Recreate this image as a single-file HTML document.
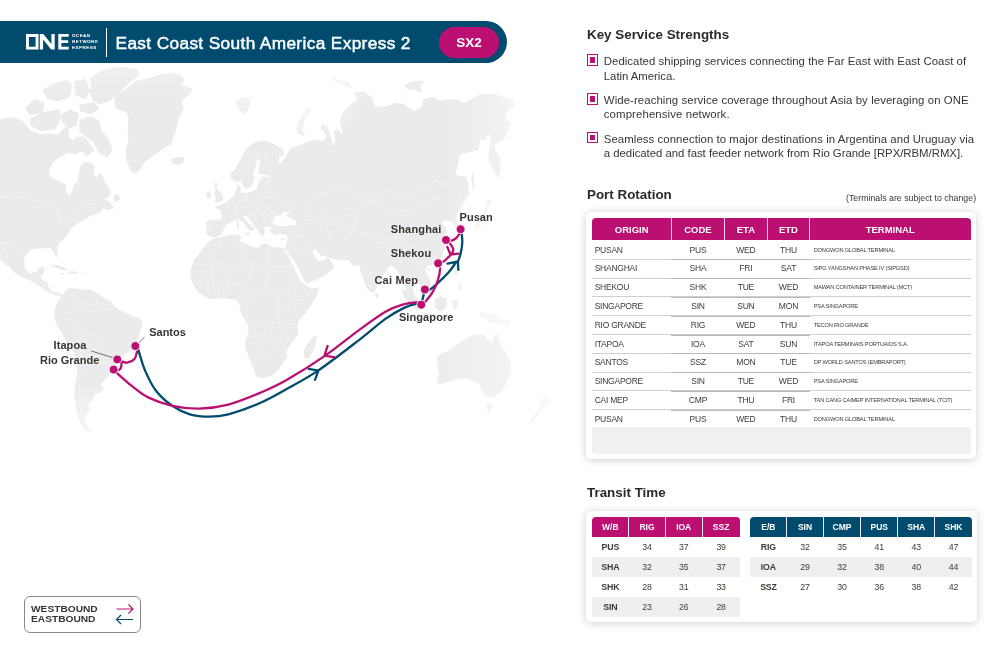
<!DOCTYPE html>
<html>
<head>
<meta charset="utf-8">
<title>East Coast South America Express 2 - SX2</title>
<style>
*{margin:0;padding:0;box-sizing:border-box;}
html,body{width:997px;height:667px;overflow:hidden;background:#fff;}
body{position:relative;font-family:"Liberation Sans",sans-serif;color:#3a3530;}
#wrap{position:absolute;left:0;top:0;width:997px;height:667px;will-change:transform;}
.abs{position:absolute;}
#map{position:absolute;left:0;top:0;width:997px;height:667px;}
/* header */
#bar{position:absolute;left:0;top:21px;width:507px;height:42px;background:#014c6e;border-radius:0 21px 21px 0;}
#title{position:absolute;left:115.5px;top:22px;letter-spacing:0.35px;-webkit-text-stroke:.45px #fff;height:42px;line-height:42px;color:#fff;font-weight:normal;font-size:17.3px;white-space:nowrap;transform-origin:0 50%;}
#divider{position:absolute;left:105.5px;top:28px;width:1px;height:29px;background:#fff;}
#pill{position:absolute;left:439.1px;top:26.7px;width:59.6px;height:30.9px;border-radius:15.5px;background:#bb0f71;color:#fff;font-weight:bold;font-size:13.5px;line-height:31px;text-align:center;}
/* right */
h2{position:absolute;left:587px;font-size:13.4px;font-weight:bold;color:#2d2a26;white-space:nowrap;line-height:16px;transform-origin:0 50%;}
.bl{position:absolute;left:586.6px;width:11.2px;height:11.6px;border:1px solid #bb0f71;}
.bl:after{content:"";position:absolute;left:2.1px;top:2.1px;width:5px;height:5.4px;background:#bb0f71;}
.bt{position:absolute;left:603.8px;font-size:11.4px;line-height:14.6px;color:#3a3530;white-space:nowrap;transform-origin:0 0;}
.card{position:absolute;background:#fff;border-radius:5px;box-shadow:0 1px 8px rgba(0,0,0,.2);}
table{border-collapse:collapse;}
.th{position:absolute;color:#fff;font-weight:bold;font-size:9.5px;text-align:center;white-space:nowrap;}
.th.s{font-size:8.5px;}
.td{position:absolute;font-size:8.5px;color:#3f3a35;white-space:nowrap;letter-spacing:-0.2px;}
.td.o{letter-spacing:-0.25px;}
.td.c{text-align:center;}
.td.b{font-weight:bold;}
.td.t{font-size:5.7px;letter-spacing:-0.18px;}
.td.tr{font-size:8.8px;}
.pl{position:absolute;font-size:11px;font-weight:bold;line-height:14px;color:#3a3530;white-space:nowrap;}
/* legend */
#legend{position:absolute;left:24px;top:596px;width:117px;height:37px;border:1px solid #8a8a8a;border-radius:6px;background:#fff;}
#legend div{position:absolute;left:5.5px;transform:scaleX(1.1);font-size:9.25px;font-weight:bold;color:#3a3530;line-height:10px;transform-origin:0 50%;white-space:nowrap;}
</style>
</head>
<body>
<div id="wrap">
<!--MAP-->
<svg id="map" viewBox="0 0 997 667">
<defs>
<linearGradient id="gR" gradientUnits="userSpaceOnUse" x1="445" y1="0" x2="565" y2="0"><stop offset="0" stop-color="#000" stop-opacity="0"/><stop offset=".42" stop-color="#000" stop-opacity=".25"/><stop offset=".56" stop-color="#000" stop-opacity=".45"/><stop offset=".83" stop-color="#000" stop-opacity=".75"/><stop offset="1" stop-color="#000" stop-opacity=".93"/></linearGradient>
<linearGradient id="gT" gradientUnits="userSpaceOnUse" x1="0" y1="63" x2="0" y2="102"><stop offset="0" stop-color="#000" stop-opacity=".25"/><stop offset="1" stop-color="#000" stop-opacity="0"/></linearGradient>
<linearGradient id="gL" gradientUnits="userSpaceOnUse" x1="0" y1="0" x2="55" y2="0"><stop offset="0" stop-color="#000" stop-opacity=".12"/><stop offset="1" stop-color="#000" stop-opacity="0"/></linearGradient>
<linearGradient id="gB" gradientUnits="userSpaceOnUse" x1="0" y1="385" x2="0" y2="440"><stop offset="0" stop-color="#000" stop-opacity="0"/><stop offset="1" stop-color="#000" stop-opacity=".65"/></linearGradient>
<linearGradient id="gA" gradientUnits="userSpaceOnUse" x1="437" y1="0" x2="560" y2="0"><stop offset="0" stop-color="#ebebeb" stop-opacity=".9"/><stop offset=".6" stop-color="#ebebeb" stop-opacity=".6"/><stop offset=".88" stop-color="#ebebeb" stop-opacity=".3"/><stop offset="1" stop-color="#ebebeb" stop-opacity=".1"/></linearGradient>
<radialGradient id="gG" gradientUnits="userSpaceOnUse" cx="503" cy="266" r="90" gradientTransform="translate(503 266) scale(.72 1) translate(-503 -266)"><stop offset="0" stop-color="#000" stop-opacity=".8"/><stop offset=".55" stop-color="#000" stop-opacity=".55"/><stop offset="1" stop-color="#000" stop-opacity="0"/></radialGradient>
<radialGradient id="gN" gradientUnits="userSpaceOnUse" cx="292" cy="64" r="85"><stop offset="0" stop-color="#000" stop-opacity=".7"/><stop offset=".6" stop-color="#000" stop-opacity=".5"/><stop offset="1" stop-color="#000" stop-opacity="0"/></radialGradient>
<mask id="mk" maskUnits="userSpaceOnUse" x="0" y="0" width="997" height="667"><rect width="997" height="667" fill="#fff"/><rect x="445" width="552" height="667" fill="url(#gR)"/><rect width="997" height="165" fill="url(#gT)"/><rect x="400" y="150" width="200" height="240" fill="url(#gG)"/><rect x="190" y="0" width="220" height="160" fill="url(#gN)"/><rect y="385" width="997" height="282" fill="url(#gB)"/></mask>
</defs>
<g mask="url(#mk)"><path id="land" fill="#ebebeb" d="M0.0 119.2L10.0 117.2L18.1 118.2L24.1 122.2L30.1 130.3L40.2 134.3L50.2 133.3L58.2 135.3L62.2 130.3L66.3 126.3L69.3 129.3L68.3 136.3L72.3 140.3L76.3 137.3L82.3 136.3L88.4 140.3L90.4 146.3L86.3 150.4L80.3 151.4L76.3 154.4L68.3 152.8L60.2 156.4L53.2 162.4L49.2 170.4L49.2 175.5L54.2 178.9L62.2 182.5L66.3 185.5L65.3 184.0L66.3 192.0L69.3 195.7L71.7 192.0L74.3 184.0L77.3 182.5L78.7 174.5L80.3 166.4L84.3 161.4L90.4 162.4L94.4 166.4L93.4 172.4L96.4 177.5L100.4 172.4L104.4 180.5L108.4 188.5L106.4 184.0L109.4 189.0L111.4 194.1L108.4 197.1L104.4 199.1L109.4 202.1L114.5 208.1L108.4 210.1L103.4 208.1L100.4 212.1L90.4 216.1L82.3 220.2L76.3 224.2L70.3 229.2L68.3 234.2L60.2 242.2L57.2 247.3L57.6 254.3L56.2 258.3L53.8 252.3L50.2 248.3L40.2 248.3L32.1 249.3L27.1 253.3L24.1 260.3L25.1 268.4L30.1 273.4L37.1 271.4L39.2 267.3L45.2 267.3L43.2 273.4L40.2 276.4L43.2 280.4L48.2 282.4L48.2 286.4L52.2 291.4L58.2 292.4L62.2 294.5L59.2 296.5L54.2 294.5L48.2 292.4L40.2 286.4L34.1 282.4L26.1 278.4L18.1 275.4L12.0 270.4L9.0 266.3L4.0 259.3L0.0 253.3ZM0.0 254.7L2.4 257.3L6.0 262.7L8.4 266.7L6.0 265.9L2.4 261.3L0.0 258.7ZM62.2 294.5L67.3 289.4L70.3 287.4L74.3 288.4L80.3 289.4L90.4 289.4L96.4 292.4L104.4 298.5L110.4 300.5L113.5 305.5L120.5 310.5L130.5 315.1L138.6 318.1L142.6 322.1L141.6 328.1L138.6 336.1L136.5 344.2L132.5 350.2L124.5 354.2L118.5 358.2L114.5 368.3L110.4 374.3L104.4 380.3L100.4 384.3L104.4 388.4L100.4 392.4L94.4 394.4L92.4 400.4L88.4 404.4L89.4 410.4L84.3 416.5L85.3 422.5L89.4 428.5L94.4 432.5L88.4 432.5L82.3 428.5L79.3 420.5L76.3 408.4L74.3 396.4L75.3 384.3L77.3 372.3L76.3 360.2L74.3 352.2L68.3 344.2L62.2 334.1L56.2 324.1L54.2 316.1L55.2 308.0L58.2 300.0L59.8 298.5ZM114.5 97.1L124.5 90.1L136.5 81.1L148.6 78.1L160.6 74.1L172.7 72.4L181.7 76.1L184.7 80.1L180.7 84.1L192.8 89.1L188.8 95.1L181.7 100.2L183.7 108.2L178.7 118.2L176.7 128.3L172.7 140.3L170.7 144.3L160.6 150.4L152.6 156.4L144.6 162.4L138.6 171.4L134.5 173.5L130.5 170.4L126.5 160.4L125.5 150.4L128.5 140.3L127.5 128.3L128.5 118.2L126.5 112.2L120.5 110.2L115.5 108.2L114.5 102.2ZM170.7 159.4L176.7 157.0L183.7 157.8L184.7 161.4L178.7 164.8L173.7 164.4ZM90.0 79.1L96.4 73.7L104.4 69.6L120.5 66.6L137.6 69.6L139.6 75.7L131.5 80.7L125.5 86.7L119.5 92.7L109.4 101.2L100.4 104.2L93.4 101.2L89.4 92.1L91.4 86.1ZM74.7 81.1L85.3 79.1L90.0 90.1L85.3 99.8L75.3 95.1ZM42.2 90.1L52.2 84.1L67.3 80.1L72.3 85.1L70.3 97.1L59.2 101.2L47.2 99.2ZM79.3 104.6L94.4 102.2L99.4 109.2L90.4 114.2L80.3 111.2ZM25.1 108.2L34.1 99.2L44.2 102.6L43.2 112.8L29.7 115.2ZM30.1 118.2L46.2 111.2L59.2 109.2L61.2 118.6L55.2 129.3L40.2 131.3L30.1 125.3ZM61.2 114.2L70.3 109.2L79.3 113.8L75.9 126.7L69.3 128.3L64.3 124.3L61.2 120.2ZM79.3 120.2L90.4 116.2L99.4 120.2L101.4 130.3L109.4 140.3L112.4 150.4L107.4 157.4L100.4 154.4L96.4 148.4L93.4 142.3L86.3 137.3L79.3 131.3ZM80.3 148.4L90.4 144.3L94.4 150.4L86.3 156.4ZM113.5 195.1L118.5 194.1L120.5 199.1L116.5 202.1L113.5 200.1ZM50.2 264.3L58.2 265.3L66.3 268.4L67.3 270.4L60.2 269.4L52.2 266.3ZM68.3 271.4L77.3 271.4L78.3 273.4L69.3 274.0ZM81.3 272.8L84.3 272.8L84.3 274.0L81.3 274.0ZM60.2 273.0L64.3 273.0L64.3 274.4L60.2 274.4ZM231.0 178.8L230.1 173.4L234.6 169.8L240.0 160.8L246.2 148.4L254.3 142.3L264.3 140.3L274.3 144.3L282.4 148.4L284.4 154.4L279.4 157.4L278.4 162.4L284.4 158.4L290.4 148.4L296.4 146.3L304.5 143.3L312.5 140.3L318.5 139.3L322.5 141.3L326.5 136.3L320.5 128.3L321.5 123.9L327.6 126.3L330.6 136.3L333.6 146.3L335.6 140.3L333.6 130.3L338.6 129.3L342.6 134.3L339.6 120.2L342.6 112.2L350.6 104.2L356.7 100.2L354.7 92.1L364.7 92.1L372.7 98.2L374.7 107.2L382.8 106.2L388.0 106.2L396.1 102.2L404.1 104.2L414.1 111.2L422.2 106.2L423.2 99.2L432.2 97.1L440.2 100.2L448.3 99.2L456.3 99.2L464.3 103.2L472.4 98.2L480.4 94.1L492.4 94.1L504.5 97.1L512.5 100.2L514.5 106.2L508.5 110.2L504.5 117.2L511.5 124.3L506.5 132.3L504.5 139.3L498.5 142.3L494.5 144.3L495.5 150.4L500.5 158.4L500.5 168.4L498.5 178.5L492.4 168.4L488.4 160.4L489.4 148.4L490.4 136.3L488.4 133.3L485.4 140.3L480.4 139.3L478.4 150.4L468.4 152.4L460.3 154.4L457.3 166.4L455.3 173.5L460.3 176.5L466.3 176.5L468.4 184.5L469.4 193.9L466.3 198.1L462.3 206.1L458.3 212.1L455.3 219.2L457.3 221.2L460.3 226.2L459.3 230.2L455.9 228.6L453.3 223.2L450.3 221.2L444.3 220.2L441.2 223.2L446.3 228.2L447.3 232.2L444.3 236.2L445.0 247.0L442.0 256.0L437.5 263.5L431.5 265.0L427.0 266.5L425.5 271.0L428.5 277.0L430.7 283.0L430.0 288.2L425.5 290.5L422.5 287.5L419.5 284.5L416.5 280.0L415.0 275.5L413.5 280.0L412.0 286.0L414.2 293.5L418.0 301.0L421.0 304.0L417.2 304.0L413.5 299.5L408.2 293.5L404.5 286.0L401.5 280.0L398.5 272.5L395.5 268.7L390.2 265.0L385.0 272.5L379.0 283.0L375.2 290.5L372.7 293.8L367.7 289.4L363.7 280.4L360.7 270.4L358.7 264.3L356.7 266.3L352.7 265.3L348.6 260.3L342.6 260.3L334.6 259.3L328.6 257.3L330.6 260.3L334.6 267.3L326.5 274.4L314.5 280.4L306.5 283.4L305.5 285.4L310.5 288.4L319.5 287.4L316.5 296.5L310.5 306.5L304.5 313.9L299.4 320.1L297.4 326.1L298.4 334.2L292.4 342.2L286.4 350.2L287.4 356.3L282.4 364.3L276.3 372.3L270.3 376.3L262.3 378.4L256.3 376.3L253.3 368.3L249.2 358.3L245.2 348.2L245.2 340.2L248.2 333.2L248.2 326.1L244.2 318.1L240.2 312.1L240.2 306.1L236.2 300.0L224.1 298.0L210.1 299.0L198.0 292.0L193.0 284.4L190.6 276.4L191.0 268.4L194.0 260.3L200.0 252.3L206.1 244.3L213.0 238.5L220.2 237.3L229.2 234.6L237.3 234.6L240.9 236.4L240.0 241.8L245.4 243.6L254.4 247.2L258.0 249.0L260.7 244.5L267.0 243.6L272.4 247.2L279.6 247.2L284.1 248.1L285.9 246.3L287.1 241.8L287.7 236.4L285.0 234.6L279.6 233.7L274.2 235.5L269.7 231.0L270.6 228.3L272.4 229.2L271.5 227.4L267.9 226.5L263.4 227.4L265.2 231.9L263.4 236.4L259.8 233.7L257.1 229.2L252.6 223.8L247.2 216.6L242.7 215.7L244.5 218.4L249.0 223.8L255.3 229.2L250.8 231.0L252.6 233.7L247.2 227.4L242.7 222.0L239.1 219.3L233.7 221.1L231.0 222.0L226.5 224.7L223.8 229.2L220.2 235.5L213.0 237.6L210.3 236.4L206.2 234.6L206.7 229.2L205.8 222.9L207.6 220.2L221.1 219.3L222.0 216.6L220.2 210.3L214.8 207.6L219.3 204.9L222.0 204.0L226.5 202.2L230.1 198.6L233.7 195.9L236.7 188.7L237.3 185.1ZM213.9 183.3L217.5 182.4L216.6 188.7L221.1 192.3L223.8 198.6L221.1 201.3L214.8 203.1L215.7 197.7L213.9 194.1L215.7 190.5ZM205.8 193.2L210.3 191.4L211.6 195.9L207.6 199.5ZM237.5 219.3L238.7 219.3L238.9 229.2L236.9 229.2L236.9 222.3ZM245.4 232.8L249.9 232.8L249.0 235.8L245.9 234.6ZM262.5 239.6L266.6 239.6L266.6 240.5L262.5 240.5ZM281.0 239.3L285.3 237.8L285.0 239.4L281.7 240.2ZM375.7 292.4L378.8 294.5L377.8 298.5L375.1 296.5ZM238.7 186.9L240.3 186.5L240.7 189.9L238.9 190.7ZM308.5 342.2L314.5 335.2L316.9 336.2L315.5 344.2L311.5 354.3L307.5 359.3L303.5 356.3L304.5 348.2ZM298.4 134.3L296.4 128.3L299.4 118.2L306.5 108.2L311.5 107.2L310.5 111.2L304.5 120.2L302.4 130.3L305.5 136.3ZM235.2 100.2L244.2 97.1L253.3 97.1L250.2 103.2L248.2 110.2L243.2 114.2L238.2 108.2ZM330.6 74.1L338.6 80.1L348.6 82.1L352.7 88.1L344.6 86.1L334.6 82.1ZM404.1 85.1L412.1 81.1L425.2 81.1L420.2 86.1L422.2 93.1L414.1 90.1L407.1 89.1ZM427.0 268.7L429.4 268.3L429.4 270.7L427.3 271.0ZM434.2 300.0L440.2 296.0L447.3 299.0L446.3 307.1L440.2 312.1L435.2 308.1ZM401.1 288.0L408.1 292.0L416.1 300.0L421.2 309.1L417.1 310.1L410.1 304.1L404.1 297.0ZM423.2 312.1L438.2 314.5L438.2 316.5L423.2 314.5ZM452.3 300.0L458.3 299.0L457.3 308.1L453.3 310.1ZM478.4 311.1L486.4 313.1L494.5 314.1L504.5 320.1L512.5 320.1L508.5 327.1L500.5 324.1L492.4 323.1L486.4 320.1L480.4 316.1ZM453.3 266.3L457.3 266.3L458.3 276.4L454.7 274.4ZM458.3 284.4L462.3 284.4L462.3 290.4L458.3 290.4ZM476.4 230.2L474.4 225.2L480.4 218.2L484.4 210.1L487.4 204.1L489.4 206.1L485.4 218.2L481.4 225.2ZM484.4 202.1L490.4 199.1L492.4 203.1L487.4 205.1ZM471.4 178.5L472.8 172.4L474.4 180.5L473.4 192.5Z"/><path id="sea" fill="#fff" d="M272.4 223.8L273.3 219.3L276.9 214.8L280.5 215.7L283.2 212.1L286.8 213.0L289.5 210.3L288.6 213.9L285.0 215.7L292.2 219.3L296.7 222.0L294.9 224.7L288.6 225.6L281.4 226.5L276.0 225.6ZM283.0 249.3L284.4 248.7L286.0 250.7L287.6 249.3L288.4 250.3L287.2 252.3L290.4 256.3L297.4 266.3L302.4 276.4L306.5 283.4L304.9 285.2L300.4 280.4L294.4 268.4L288.4 256.3ZM312.5 250.3L315.5 249.3L320.5 255.3L328.6 257.3L326.5 257.9L322.5 260.3L318.5 261.3L314.5 256.3ZM237.5 184.9L231.2 179.0L233.7 180.6L237.3 182.4L240.9 180.6L242.7 186.0L245.4 188.7L249.9 187.8L252.6 184.2L254.4 178.8L252.9 173.4L255.3 168.0L256.2 162.6L258.0 158.6L260.1 160.8L259.4 168.0L258.0 173.4L263.4 174.3L269.7 175.7L269.1 177.4L261.0 176.3L262.7 178.8L259.1 181.0L258.0 184.6L257.1 188.7L254.4 190.5L247.2 193.2L241.1 192.5L241.1 190.5L240.2 186.0ZM279.4 157.4L278.4 162.4L280.8 163.4L284.4 158.4L282.8 156.0Z"/>
<path fill="none" stroke="#fff" stroke-width=".5" stroke-opacity=".65" stroke-linejoin="round" d="M206.4 256.4L212.0 251.9L219.9 246.2L221.0 240.6M239.0 239.5L240.1 248.5L241.2 257.5L252.5 264.2M268.7 246.2L268.7 266.5L290.7 266.5M212.0 264.2L212.0 259.7L230.0 271.0L241.2 272.1L252.5 264.2L268.7 272.1L268.7 266.5M196.2 264.2L212.0 264.2L213.1 277.7L201.9 278.8L200.7 286.7M230.0 271.0L228.8 278.8L221.0 281.1L213.1 283.3L214.2 295.7M252.5 264.2L250.2 277.7L248.0 283.3L245.7 291.2L240.1 298.0L250.2 295.7L248.0 302.5L241.2 304.7M268.7 272.1L266.0 280.0L264.8 287.8L250.2 295.7M290.7 266.5L295.2 277.7L290.7 286.7L287.3 293.5L290.7 300.2L287.3 309.2L297.4 316.0M301.9 286.7L307.6 293.5L318.8 290.1M307.6 293.5L301.9 300.2L290.7 300.2M228.8 278.8L228.8 283.3L227.7 294.6M228.8 283.3L248.0 283.3M264.8 287.8L279.4 293.5L287.3 293.5M279.4 293.5L278.3 309.2L279.4 322.7L270.5 324.9L263.7 320.5L257.0 322.7L248.0 321.6L246.8 311.5M278.3 309.2L287.3 309.2M279.4 322.7L297.4 324.9M245.7 336.2L263.7 336.2L270.5 338.4L281.7 336.2L286.2 327.2L279.4 322.7M263.7 336.2L266.0 327.2L270.5 324.9M261.5 336.2L261.5 345.2L262.6 356.4L270.5 351.9L279.4 345.2L281.7 336.2M286.2 327.2L288.4 338.4L283.9 347.4L285.1 354.2M207.5 284.5L208.6 295.7M218.7 285.6L218.7 296.8M222.1 285.6L223.7 295.7M73.7 294.0L77.1 300.7L82.7 301.9L83.8 307.5L88.3 304.1L96.2 305.2L97.3 300.7M97.3 300.7L97.3 307.5L108.5 309.7L107.4 304.1M102.9 301.9L102.9 308.6M62.5 312.0L69.2 313.1L73.7 309.7L83.8 307.5M69.2 313.1L70.3 319.8L63.6 318.7M70.3 319.8L73.7 327.7L81.6 329.9L81.6 334.4L88.3 333.3L95.1 338.9L99.6 340.1L100.7 347.9L95.1 349.0L92.8 354.7L84.9 354.7L80.4 347.9L79.3 341.2L81.6 334.4M95.1 349.0L101.8 352.4L107.4 354.7L107.4 362.5L100.7 363.7L92.8 354.7M80.4 347.9L81.6 363.7L79.3 379.4L79.3 397.4L81.6 413.1L84.9 424.3M107.4 362.5L105.2 370.4L109.7 369.3L111.9 373.8M305.3 204.0L315.5 196.3L328.3 191.2L343.6 187.4L356.3 193.8L364.0 192.5L371.6 198.9L379.3 193.8L392.0 191.2L402.2 196.3L415.0 192.5L427.7 187.4L435.4 181.0L443.0 183.6L453.2 189.9L460.9 193.8L463.4 204.0L458.3 209.1M371.6 198.9L379.3 206.5L397.1 211.6L412.4 209.1L425.2 201.4L435.4 198.9L427.7 187.4M305.3 204.0L307.9 214.2L315.5 216.7L323.2 214.2L333.4 219.3L343.6 216.7L353.8 214.2L361.4 206.5L371.6 198.9M361.4 206.5L358.9 216.7L353.8 224.4L364.0 232.0L374.2 237.1L386.9 239.7L397.1 237.1L404.8 242.2L409.9 247.3L417.5 249.9L422.6 252.4M353.8 224.4L351.2 234.6L344.8 242.2L341.0 249.9M305.3 219.3L315.5 221.8L325.7 223.1L328.3 232.0L330.8 242.2L325.7 247.3M328.3 232.0L338.5 232.0L348.7 225.6L353.8 224.4M364.0 232.0L374.2 242.2L386.9 244.8L392.0 242.2M397.1 237.1L394.6 247.3L399.7 257.5L402.2 267.7M404.8 242.2L407.3 252.4L415.0 257.5L420.1 267.7M409.9 247.3L417.5 257.5L422.6 267.7M221.1 220.2L226.5 222.0M230.1 199.5L233.7 204.0L236.4 207.6L235.5 213.0L237.3 218.4L239.1 219.3M233.7 195.9L233.7 204.0M240.9 192.3L243.6 198.6L241.8 204.0L244.5 207.6L236.4 207.6M247.2 193.2L246.3 200.4L249.0 204.0L256.2 204.9L261.6 204.0L262.5 196.8L257.1 192.3M262.5 196.8L270.6 197.7L276.0 198.6L283.2 202.2L292.2 204.9L290.4 210.3M268.8 177.0L267.0 186.0L262.5 196.8M269.7 176.1L270.6 168.0L267.0 159.0L266.1 150.0M240.9 180.6L243.6 171.6L249.0 160.8L254.4 151.8M258.0 159.0L257.1 151.8M261.6 204.0L267.0 207.6L272.4 211.2L273.3 219.3M256.2 204.9L257.1 211.2L263.4 214.8L267.0 207.6M257.1 211.2L252.6 213.0L247.2 216.6M244.5 207.6L249.0 211.2L252.6 213.0M263.4 214.8L264.3 221.1L267.9 226.5M264.3 221.1L272.4 222.0M294.9 224.7L301.2 225.6L304.8 229.2L303.0 234.6L295.8 236.4L287.7 236.4M287.1 241.8L293.1 240.0L303.0 234.6L310.2 243.6L317.4 250.8M293.1 240.0L295.8 247.2L310.2 250.8L321.0 258.0M206.2 229.2L210.3 229.2L211.2 222.0L207.6 221.1M0.0 196.1L30.1 199.1L50.2 203.1L58.2 208.1L59.2 219.2L68.3 217.1L80.3 210.1L88.4 203.1L94.4 204.1L100.4 202.1M0.0 243.9L8.0 243.3L14.1 248.3L20.1 249.3L26.1 259.3M39.2 271.4L40.2 276.4M43.2 273.4L46.2 274.4"/>
</g>
<path fill="url(#gA)" d="M437.2 356.3L440.2 354.3L450.3 350.2L460.3 342.2L468.4 337.2L476.4 334.2L484.4 335.2L488.4 340.2L491.4 344.2L494.5 335.2L496.5 333.2L500.5 344.2L505.5 352.2L510.5 362.3L511.5 370.3L508.5 378.4L504.5 386.4L500.5 392.4L494.5 396.4L488.4 397.4L482.4 392.4L479.4 384.4L474.4 381.4L466.3 378.4L456.3 379.4L446.3 382.4L438.2 384.4L436.2 381.4L439.2 374.3L437.2 364.3ZM486.4 405.5L492.4 404.5L491.4 409.5L488.4 412.5ZM544.7 392.4L550.7 401.4L540.6 412.5L532.6 422.5L529.6 421.5L538.6 408.5Z"/>
<!--ROUTES-->
<g fill="none" stroke-width="2.3" stroke-linecap="round" stroke-linejoin="round">
<path stroke="#014c6e" d="M136.5 347.0C136.8 347.6 137.1 346.6 138.5 350.5C139.9 354.4 142.0 363.4 144.9 370.1C147.8 376.9 151.6 385.1 156.2 391.0C160.8 396.9 166.6 401.9 172.2 405.8C177.8 409.6 183.8 412.5 189.9 414.3C196.1 416.1 202.7 416.7 209.1 416.7C215.5 416.7 219.9 416.6 228.4 414.3C236.9 412.0 250.4 407.2 260.0 403.0C269.6 398.8 276.5 394.7 286.1 389.3C295.7 383.9 305.7 379.0 317.7 370.9C329.7 362.8 347.0 349.3 358.3 340.6C369.6 331.9 377.9 324.3 385.4 318.9C392.9 313.5 398.2 310.7 403.5 308.1C408.8 305.5 414.0 304.1 417.0 303.5C420.0 302.9 420.6 304.5 421.3 304.7M421.3 304.7L424.9 289.5M424.9 289.5C425.8 289.5 426.1 292.4 430.0 289.6C433.9 286.9 443.6 277.6 448.0 273.0C452.4 268.4 454.4 264.2 456.1 262.2C457.8 260.2 457.3 262.5 458.1 260.9C458.9 259.3 460.1 256.0 460.8 252.8C461.5 249.7 462.2 245.1 462.3 242.0C462.4 238.9 462.0 236.5 461.7 234.3C461.4 232.2 460.8 230.1 460.6 229.2M447.5 263.6L457.9 261.5L458.3 269.9M308.7 368.9L318.4 370.7L315.0 379.9"/>
<path stroke="#bb0f71" d="M421.3 304.7C420.6 304.3 420.0 302.4 417.0 302.3C414.0 302.2 408.8 302.8 403.5 304.4C398.2 306.0 392.9 307.3 385.4 311.7C377.9 316.1 368.4 323.2 358.3 330.6C348.2 338.0 336.9 347.6 324.9 355.9C312.9 364.2 296.9 374.1 286.1 380.3C275.3 386.5 269.6 388.8 260.0 392.9C250.4 396.9 238.5 402.0 228.4 404.6C218.3 407.2 208.9 408.4 199.5 408.6C190.1 408.8 180.8 407.6 172.2 405.8C163.6 403.9 154.8 400.7 148.1 397.4C141.4 394.1 137.3 390.3 132.1 386.2C126.9 382.1 120.0 375.8 116.9 373.0C113.8 370.2 114.1 370.2 113.6 369.6M136.6 348.0C136.7 348.4 137.5 348.7 137.2 350.5C136.8 352.3 136.2 356.9 134.5 358.9C132.8 360.9 129.4 362.2 127.3 362.6C125.2 363.0 123.4 361.8 121.7 361.3C120.0 360.8 118.0 359.7 117.3 359.4M119.5 361.0C119.8 361.3 121.1 361.8 121.3 362.9C121.5 364.0 121.4 366.5 120.9 367.7C120.4 368.9 119.7 369.8 118.5 370.1C117.3 370.4 114.4 369.7 113.6 369.6M460.6 229.2C460.3 230.1 459.8 232.8 459.0 234.3C458.2 235.9 457.2 237.3 455.9 238.4C454.6 239.5 453.0 240.4 451.4 240.7C449.7 240.9 446.9 240.1 446.0 240.0M446.0 240.0C446.7 240.6 448.8 242.1 450.0 243.6C451.2 245.1 452.9 247.1 453.2 248.8C453.5 250.4 452.9 251.7 452.0 253.2C451.1 254.8 449.0 256.6 447.5 258.0C446.0 259.4 444.8 260.9 443.2 261.8C441.7 262.7 439.0 263.1 438.1 263.3M447.3 246.9L450.4 254.5L458.6 253.7M438.1 263.3C438.4 264.2 440.2 265.5 440.1 268.5C440.0 271.5 438.9 277.2 437.6 281.1C436.4 285.0 434.7 288.5 432.7 291.9C430.7 295.3 427.4 299.2 425.5 301.4C423.6 303.5 422.0 304.1 421.3 304.7M327.6 346.0L324.4 355.6L334.0 357.2"/>
</g>
<g stroke="#3a3530" stroke-width=".7" fill="none"><path d="M139 342.5L144.6 337.2M91.3 351L112.9 357.7"/></g>
<g fill="#bb0f71" stroke="#fff" stroke-opacity=".85" stroke-width="1"><circle cx="460.6" cy="229.2" r="4.45"/><circle cx="446" cy="240" r="4.45"/><circle cx="438.1" cy="263.3" r="4.45"/><circle cx="424.9" cy="289.5" r="4.45"/><circle cx="421.3" cy="304.7" r="4.45"/><circle cx="135.3" cy="346" r="4.45"/><circle cx="117.3" cy="359.4" r="4.45"/><circle cx="113.6" cy="369.6" r="4.45"/></g>
<!--/ROUTES-->
</svg>
<!--LABELS-->
<div class="pl" style="left:459.6px;top:209.5px;letter-spacing:0.000px">Pusan</div>
<div class="pl" style="left:390.7px;top:222.0px;letter-spacing:0.175px">Shanghai</div>
<div class="pl" style="left:390.7px;top:245.5px;letter-spacing:0.150px">Shekou</div>
<div class="pl" style="left:374.4px;top:272.9px;letter-spacing:0.243px">Cai Mep</div>
<div class="pl" style="left:398.9px;top:310.3px;letter-spacing:0.100px">Singapore</div>
<div class="pl" style="left:149.2px;top:325.1px;letter-spacing:0.000px">Santos</div>
<div class="pl" style="left:53.5px;top:338.4px;letter-spacing:0.083px">Itapoa</div>
<div class="pl" style="left:40px;top:353.2px;letter-spacing:0.000px">Rio Grande</div>
<!--/LABELS-->
<!--HEADER-->
<div id="bar"></div>
<svg class="abs" style="left:26px;top:34px" width="74" height="17" viewBox="0 0 74 17">
<path fill="#fff" fill-rule="evenodd" d="M0 0h12.500v15.600h-12.500zM2.900 2.900v9.800h6.700v-9.800z"/>
<path fill="#fff" d="M13.800 0h3.500l8.100 10V0h3.300v15.600h-3.500l-8.100-10v10h-3.300z"/>
<path fill="#fff" d="M32.300 0h10.400v2.800h-7.300v3.500h6.800v2.800h-6.800v3.700h7.300v2.800h-10.400z"/>
</svg>
<div class="abs" style="left:71.9px;top:33.35px;font-size:4.3px;line-height:5.9px;color:#fff;font-weight:normal;-webkit-text-stroke:.18px #fff;letter-spacing:.66px;white-space:nowrap">OCEAN<br>NETWORK<br>EXPRESS</div>
<div id="divider"></div>
<div id="title">East Coast South America Express 2</div>
<div id="pill">SX2</div>

<!--LEGEND-->
<div id="legend">
<div style="top:6.5px">WESTBOUND</div>
<div style="top:17.2px">EASTBOUND</div>
<svg class="abs" style="left:89.6px;top:4.3px" width="20" height="26" viewBox="0 0 20 26" fill="none" stroke-width="1.2">
<path stroke="#bb0f71" d="M1.5 8H18M13.5 3.5L18 8l-4.500 4.500"/>
<path stroke="#014c6e" d="M18 18.500H1.500M6 14l-4.500 4.500L6 23"/>
</svg>
</div>

<!--RIGHT PANEL-->
<h2 id="h1" style="top:26.95px">Key Service Strengths</h2>
<div class="bl" style="top:54.3px"></div>
<div class="bl" style="top:93.1px"></div>
<div class="bl" style="top:131.6px"></div>
<div class="bt" style="top:54.05px"><span style="letter-spacing:0.029px">Dedicated shipping services connecting the Far East with East Coast of</span><br><span style="letter-spacing:-0.043px">Latin America.</span></div>
<div class="bt" style="top:92.85px"><span style="letter-spacing:0.079px">Wide-reaching service coverage throughout Asia by leveraging on ONE</span><br><span style="letter-spacing:0.109px">comprehensive network.</span></div>
<div class="bt" style="top:131.55px"><span style="letter-spacing:0.064px">Seamless connection to major destinations in Argentina and Uruguay via</span><br><span style="letter-spacing:-0.032px">a dedicated and fast feeder network from Rio Grande [RPX/RBM/RMX].</span></div>

<h2 id="h2" style="top:186.65px">Port Rotation</h2>
<div class="abs" id="note" style="left:846px;top:193px;font-size:8.8px;line-height:10px;white-space:nowrap;color:#3a3530;transform-origin:0 50%">(Terminals are subject to change)</div>
<div class="card" id="card1" style="left:586px;top:212.3px;width:390.3px;height:247px"></div>
<!--PORT TABLE-->
<div class="abs" style="left:591.9px;top:218.4px;width:378.7px;height:22.1px;background:#bb0f71;border-radius:4px 4px 0 0"></div>
<div class="abs" style="left:670.9px;top:218.4px;width:1px;height:22.1px;background:#f3cfe3"></div>
<div class="abs" style="left:724.1px;top:218.4px;width:1px;height:22.1px;background:#f3cfe3"></div>
<div class="abs" style="left:766.7px;top:218.4px;width:1px;height:22.1px;background:#f3cfe3"></div>
<div class="abs" style="left:809.3px;top:218.4px;width:1px;height:22.1px;background:#f3cfe3"></div>
<div class="th" style="left:591.9px;top:218.4px;width:79.5px;height:22.1px;line-height:23.5px">ORIGIN</div>
<div class="th" style="left:671.4px;top:218.4px;width:53.2px;height:22.1px;line-height:23.5px">CODE</div>
<div class="th" style="left:724.6px;top:218.4px;width:42.6px;height:22.1px;line-height:23.5px">ETA</div>
<div class="th" style="left:767.2px;top:218.4px;width:42.6px;height:22.1px;line-height:23.5px">ETD</div>
<div class="th" style="left:809.8px;top:218.4px;width:160.8px;height:22.1px;line-height:23.5px">TERMINAL</div>
<div class="td o" style="left:594.7px;top:240.5px;height:18.8px;line-height:18.4px">PUSAN</div>
<div class="td c" style="left:671.4px;top:240.5px;width:53.2px;height:18.8px;line-height:18.4px">PUS</div>
<div class="td c" style="left:724.6px;top:240.5px;width:42.6px;height:18.8px;line-height:18.4px">WED</div>
<div class="td c" style="left:767.2px;top:240.5px;width:42.6px;height:18.8px;line-height:18.4px">THU</div>
<div class="td t" style="left:813.7px;top:240.5px;height:18.8px;line-height:18.4px">DONGWON GLOBAL TERMINAL</div>
<div class="abs" style="left:591.9px;top:258.8px;width:378.7px;height:1px;background:#cfcfcf"></div>
<div class="abs" style="left:671.4px;top:259.4px;width:138.4px;height:1px;background:#b9b9b9"></div>
<div class="td o" style="left:594.7px;top:259.3px;height:18.8px;line-height:18.4px">SHANGHAI</div>
<div class="td c" style="left:671.4px;top:259.3px;width:53.2px;height:18.8px;line-height:18.4px">SHA</div>
<div class="td c" style="left:724.6px;top:259.3px;width:42.6px;height:18.8px;line-height:18.4px">FRI</div>
<div class="td c" style="left:767.2px;top:259.3px;width:42.6px;height:18.8px;line-height:18.4px">SAT</div>
<div class="td t" style="left:813.7px;top:259.3px;height:18.8px;line-height:18.4px">SIPG YANGSHAN PHASE IV (SIPGSD)</div>
<div class="abs" style="left:591.9px;top:277.6px;width:378.7px;height:1px;background:#cfcfcf"></div>
<div class="abs" style="left:671.4px;top:278.2px;width:138.4px;height:1px;background:#b9b9b9"></div>
<div class="td o" style="left:594.7px;top:278.1px;height:18.8px;line-height:18.4px">SHEKOU</div>
<div class="td c" style="left:671.4px;top:278.1px;width:53.2px;height:18.8px;line-height:18.4px">SHK</div>
<div class="td c" style="left:724.6px;top:278.1px;width:42.6px;height:18.8px;line-height:18.4px">TUE</div>
<div class="td c" style="left:767.2px;top:278.1px;width:42.6px;height:18.8px;line-height:18.4px">WED</div>
<div class="td t" style="left:813.7px;top:278.1px;height:18.8px;line-height:18.4px">MAWAN CONTAINER TERMINAL (MCT)</div>
<div class="abs" style="left:591.9px;top:296.4px;width:378.7px;height:1px;background:#cfcfcf"></div>
<div class="abs" style="left:671.4px;top:297.0px;width:138.4px;height:1px;background:#b9b9b9"></div>
<div class="td o" style="left:594.7px;top:296.9px;height:18.8px;line-height:18.4px">SINGAPORE</div>
<div class="td c" style="left:671.4px;top:296.9px;width:53.2px;height:18.8px;line-height:18.4px">SIN</div>
<div class="td c" style="left:724.6px;top:296.9px;width:42.6px;height:18.8px;line-height:18.4px">SUN</div>
<div class="td c" style="left:767.2px;top:296.9px;width:42.6px;height:18.8px;line-height:18.4px">MON</div>
<div class="td t" style="left:813.7px;top:296.9px;height:18.8px;line-height:18.4px">PSA SINGAPORE</div>
<div class="abs" style="left:591.9px;top:315.2px;width:378.7px;height:1px;background:#cfcfcf"></div>
<div class="abs" style="left:671.4px;top:315.8px;width:138.4px;height:1px;background:#b9b9b9"></div>
<div class="td o" style="left:594.7px;top:315.7px;height:18.8px;line-height:18.4px">RIO GRANDE</div>
<div class="td c" style="left:671.4px;top:315.7px;width:53.2px;height:18.8px;line-height:18.4px">RIG</div>
<div class="td c" style="left:724.6px;top:315.7px;width:42.6px;height:18.8px;line-height:18.4px">WED</div>
<div class="td c" style="left:767.2px;top:315.7px;width:42.6px;height:18.8px;line-height:18.4px">THU</div>
<div class="td t" style="left:813.7px;top:315.7px;height:18.8px;line-height:18.4px">TECON RIO GRANDE</div>
<div class="abs" style="left:591.9px;top:334.0px;width:378.7px;height:1px;background:#cfcfcf"></div>
<div class="abs" style="left:671.4px;top:334.6px;width:138.4px;height:1px;background:#b9b9b9"></div>
<div class="td o" style="left:594.7px;top:334.5px;height:18.8px;line-height:18.4px">ITAPOA</div>
<div class="td c" style="left:671.4px;top:334.5px;width:53.2px;height:18.8px;line-height:18.4px">IOA</div>
<div class="td c" style="left:724.6px;top:334.5px;width:42.6px;height:18.8px;line-height:18.4px">SAT</div>
<div class="td c" style="left:767.2px;top:334.5px;width:42.6px;height:18.8px;line-height:18.4px">SUN</div>
<div class="td t" style="left:813.7px;top:334.5px;height:18.8px;line-height:18.4px">ITAPOA TERMINAIS PORTUAIOS S.A.</div>
<div class="abs" style="left:591.9px;top:352.8px;width:378.7px;height:1px;background:#cfcfcf"></div>
<div class="abs" style="left:671.4px;top:353.4px;width:138.4px;height:1px;background:#b9b9b9"></div>
<div class="td o" style="left:594.7px;top:353.3px;height:18.8px;line-height:18.4px">SANTOS</div>
<div class="td c" style="left:671.4px;top:353.3px;width:53.2px;height:18.8px;line-height:18.4px">SSZ</div>
<div class="td c" style="left:724.6px;top:353.3px;width:42.6px;height:18.8px;line-height:18.4px">MON</div>
<div class="td c" style="left:767.2px;top:353.3px;width:42.6px;height:18.8px;line-height:18.4px">TUE</div>
<div class="td t" style="left:813.7px;top:353.3px;height:18.8px;line-height:18.4px">DP WORLD SANTOS (EMBRAPORT)</div>
<div class="abs" style="left:591.9px;top:371.6px;width:378.7px;height:1px;background:#cfcfcf"></div>
<div class="abs" style="left:671.4px;top:372.2px;width:138.4px;height:1px;background:#b9b9b9"></div>
<div class="td o" style="left:594.7px;top:372.1px;height:18.8px;line-height:18.4px">SINGAPORE</div>
<div class="td c" style="left:671.4px;top:372.1px;width:53.2px;height:18.8px;line-height:18.4px">SIN</div>
<div class="td c" style="left:724.6px;top:372.1px;width:42.6px;height:18.8px;line-height:18.4px">TUE</div>
<div class="td c" style="left:767.2px;top:372.1px;width:42.6px;height:18.8px;line-height:18.4px">WED</div>
<div class="td t" style="left:813.7px;top:372.1px;height:18.8px;line-height:18.4px">PSA SINGAPORE</div>
<div class="abs" style="left:591.9px;top:390.4px;width:378.7px;height:1px;background:#cfcfcf"></div>
<div class="abs" style="left:671.4px;top:391.0px;width:138.4px;height:1px;background:#b9b9b9"></div>
<div class="td o" style="left:594.7px;top:390.9px;height:18.8px;line-height:18.4px">CAI MEP</div>
<div class="td c" style="left:671.4px;top:390.9px;width:53.2px;height:18.8px;line-height:18.4px">CMP</div>
<div class="td c" style="left:724.6px;top:390.9px;width:42.6px;height:18.8px;line-height:18.4px">THU</div>
<div class="td c" style="left:767.2px;top:390.9px;width:42.6px;height:18.8px;line-height:18.4px">FRI</div>
<div class="td t" style="left:813.7px;top:390.9px;height:18.8px;line-height:18.4px">TAN CANG CAIMEP INTERNATIONAL TERMINAL (TCIT)</div>
<div class="abs" style="left:591.9px;top:409.2px;width:378.7px;height:1px;background:#cfcfcf"></div>
<div class="abs" style="left:671.4px;top:409.8px;width:138.4px;height:1px;background:#b9b9b9"></div>
<div class="td o" style="left:594.7px;top:409.7px;height:18.8px;line-height:18.4px">PUSAN</div>
<div class="td c" style="left:671.4px;top:409.7px;width:53.2px;height:18.8px;line-height:18.4px">PUS</div>
<div class="td c" style="left:724.6px;top:409.7px;width:42.6px;height:18.8px;line-height:18.4px">WED</div>
<div class="td c" style="left:767.2px;top:409.7px;width:42.6px;height:18.8px;line-height:18.4px">THU</div>
<div class="td t" style="left:813.7px;top:409.7px;height:18.8px;line-height:18.4px">DONGWON GLOBAL TERMINAL</div>
<div class="abs" style="left:671.4px;top:428.6px;width:138.4px;height:1px;background:#b9b9b9"></div>
<div class="abs" style="left:591.9px;top:427.4px;width:378.7px;height:26.4px;background:#f0f0f0;border-radius:0 0 4px 4px"></div>
<!--/PORT TABLE-->

<h2 id="h3" style="top:485.35px">Transit Time</h2>
<div class="card" id="card2" style="left:586px;top:511.2px;width:390.5px;height:111.3px"></div>
<!--TRANSIT TABLES-->
<div class="abs" style="left:592px;top:517.2px;width:148.2px;height:19.7px;background:#bb0f71;border-radius:4px 4px 0 0"></div>
<div class="abs" style="left:628.2px;top:517.2px;width:1px;height:19.7px;background:#e8e8ee"></div>
<div class="abs" style="left:664.9px;top:517.2px;width:1px;height:19.7px;background:#e8e8ee"></div>
<div class="abs" style="left:701.5px;top:517.2px;width:1px;height:19.7px;background:#e8e8ee"></div>
<div class="th s" style="left:592.0px;top:517.2px;width:36.7px;height:19.7px;line-height:20.3px">W/B</div>
<div class="th s" style="left:628.7px;top:517.2px;width:36.7px;height:19.7px;line-height:20.3px">RIG</div>
<div class="th s" style="left:665.4px;top:517.2px;width:36.6px;height:19.7px;line-height:20.3px">IOA</div>
<div class="th s" style="left:702.0px;top:517.2px;width:38.2px;height:19.7px;line-height:20.3px">SSZ</div>
<div class="td c b tr" style="left:592.0px;top:536.9px;width:36.7px;height:20.1px;line-height:20.9px">PUS</div>
<div class="td c tr" style="left:628.7px;top:536.9px;width:36.7px;height:20.1px;line-height:20.9px">34</div>
<div class="td c tr" style="left:665.4px;top:536.9px;width:36.6px;height:20.1px;line-height:20.9px">37</div>
<div class="td c tr" style="left:702.0px;top:536.9px;width:38.2px;height:20.1px;line-height:20.9px">39</div>
<div class="abs" style="left:592px;top:557.0px;width:148.2px;height:20.1px;background:#efefef"></div>
<div class="td c b tr" style="left:592.0px;top:557.0px;width:36.7px;height:20.1px;line-height:20.9px">SHA</div>
<div class="td c tr" style="left:628.7px;top:557.0px;width:36.7px;height:20.1px;line-height:20.9px">32</div>
<div class="td c tr" style="left:665.4px;top:557.0px;width:36.6px;height:20.1px;line-height:20.9px">35</div>
<div class="td c tr" style="left:702.0px;top:557.0px;width:38.2px;height:20.1px;line-height:20.9px">37</div>
<div class="td c b tr" style="left:592.0px;top:577.1px;width:36.7px;height:20.1px;line-height:20.9px">SHK</div>
<div class="td c tr" style="left:628.7px;top:577.1px;width:36.7px;height:20.1px;line-height:20.9px">28</div>
<div class="td c tr" style="left:665.4px;top:577.1px;width:36.6px;height:20.1px;line-height:20.9px">31</div>
<div class="td c tr" style="left:702.0px;top:577.1px;width:38.2px;height:20.1px;line-height:20.9px">33</div>
<div class="abs" style="left:592px;top:597.2px;width:148.2px;height:20.1px;background:#efefef"></div>
<div class="td c b tr" style="left:592.0px;top:597.2px;width:36.7px;height:20.1px;line-height:20.9px">SIN</div>
<div class="td c tr" style="left:628.7px;top:597.2px;width:36.7px;height:20.1px;line-height:20.9px">23</div>
<div class="td c tr" style="left:665.4px;top:597.2px;width:36.6px;height:20.1px;line-height:20.9px">26</div>
<div class="td c tr" style="left:702.0px;top:597.2px;width:38.2px;height:20.1px;line-height:20.9px">28</div>
<div class="abs" style="left:750.2px;top:517.2px;width:222.1px;height:19.7px;background:#014c6e;border-radius:4px 4px 0 0"></div>
<div class="abs" style="left:786.1px;top:517.2px;width:1px;height:19.7px;background:#e8e8ee"></div>
<div class="abs" style="left:822.9px;top:517.2px;width:1px;height:19.7px;background:#e8e8ee"></div>
<div class="abs" style="left:860.1px;top:517.2px;width:1px;height:19.7px;background:#e8e8ee"></div>
<div class="abs" style="left:897.4px;top:517.2px;width:1px;height:19.7px;background:#e8e8ee"></div>
<div class="abs" style="left:934.2px;top:517.2px;width:1px;height:19.7px;background:#e8e8ee"></div>
<div class="th s" style="left:750.2px;top:517.2px;width:36.4px;height:19.7px;line-height:20.3px">E/B</div>
<div class="th s" style="left:786.6px;top:517.2px;width:36.8px;height:19.7px;line-height:20.3px">SIN</div>
<div class="th s" style="left:823.4px;top:517.2px;width:37.2px;height:19.7px;line-height:20.3px">CMP</div>
<div class="th s" style="left:860.6px;top:517.2px;width:37.3px;height:19.7px;line-height:20.3px">PUS</div>
<div class="th s" style="left:897.9px;top:517.2px;width:36.8px;height:19.7px;line-height:20.3px">SHA</div>
<div class="th s" style="left:934.7px;top:517.2px;width:37.6px;height:19.7px;line-height:20.3px">SHK</div>
<div class="td c b tr" style="left:750.2px;top:536.9px;width:36.4px;height:20.1px;line-height:20.9px">RIG</div>
<div class="td c tr" style="left:786.6px;top:536.9px;width:36.8px;height:20.1px;line-height:20.9px">32</div>
<div class="td c tr" style="left:823.4px;top:536.9px;width:37.2px;height:20.1px;line-height:20.9px">35</div>
<div class="td c tr" style="left:860.6px;top:536.9px;width:37.3px;height:20.1px;line-height:20.9px">41</div>
<div class="td c tr" style="left:897.9px;top:536.9px;width:36.8px;height:20.1px;line-height:20.9px">43</div>
<div class="td c tr" style="left:934.7px;top:536.9px;width:37.6px;height:20.1px;line-height:20.9px">47</div>
<div class="abs" style="left:750.2px;top:557.0px;width:222.1px;height:20.1px;background:#efefef"></div>
<div class="td c b tr" style="left:750.2px;top:557.0px;width:36.4px;height:20.1px;line-height:20.9px">IOA</div>
<div class="td c tr" style="left:786.6px;top:557.0px;width:36.8px;height:20.1px;line-height:20.9px">29</div>
<div class="td c tr" style="left:823.4px;top:557.0px;width:37.2px;height:20.1px;line-height:20.9px">32</div>
<div class="td c tr" style="left:860.6px;top:557.0px;width:37.3px;height:20.1px;line-height:20.9px">38</div>
<div class="td c tr" style="left:897.9px;top:557.0px;width:36.8px;height:20.1px;line-height:20.9px">40</div>
<div class="td c tr" style="left:934.7px;top:557.0px;width:37.6px;height:20.1px;line-height:20.9px">44</div>
<div class="td c b tr" style="left:750.2px;top:577.1px;width:36.4px;height:20.1px;line-height:20.9px">SSZ</div>
<div class="td c tr" style="left:786.6px;top:577.1px;width:36.8px;height:20.1px;line-height:20.9px">27</div>
<div class="td c tr" style="left:823.4px;top:577.1px;width:37.2px;height:20.1px;line-height:20.9px">30</div>
<div class="td c tr" style="left:860.6px;top:577.1px;width:37.3px;height:20.1px;line-height:20.9px">36</div>
<div class="td c tr" style="left:897.9px;top:577.1px;width:36.8px;height:20.1px;line-height:20.9px">38</div>
<div class="td c tr" style="left:934.7px;top:577.1px;width:37.6px;height:20.1px;line-height:20.9px">42</div>
<!--/TRANSIT TABLES-->

</div>
</body>
</html>
